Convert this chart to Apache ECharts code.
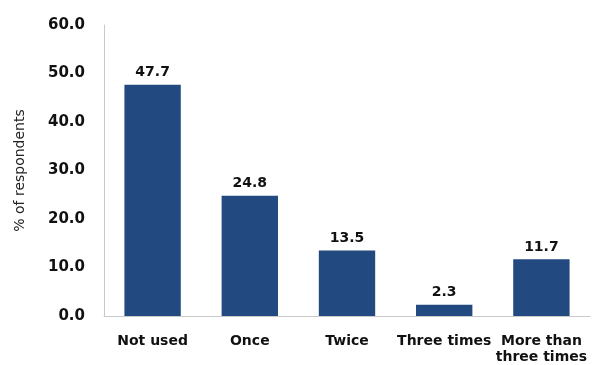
<!DOCTYPE html>
<html><head><meta charset="utf-8">
<script src="https://cdn.jsdelivr.net/npm/echarts@6/dist/echarts.min.js"></script>
<style>html,body{margin:0;padding:0;background:#fff}#c{width:595px;height:365px}</style>
</head><body><div id="c"></div>
<script>
const categories = ["Not used", "Once", "Twice", "Three times", "More than\nthree times"];
const values = [47.7, 24.8, 13.5, 2.3, 11.7];
const yTicks = {min: 0, max: 60, interval: 10};
const yTitle = "% of respondents";

const chart = echarts.init(document.getElementById('c'), null, {renderer: 'canvas'});
chart.setOption({
  animation: false,
  grid: {left: 104, right: 5, top: 25, bottom: 48},
  xAxis: {
    type: 'category', data: categories,
    axisLine: {lineStyle: {color: '#c8c8c8', width: 1}},
    axisTick: {show: false},
    axisLabel: {color: '#111', fontFamily: 'DejaVu Sans', fontWeight: 'bold', fontSize: 14, margin: 17, lineHeight: 16, interval: 0}
  },
  yAxis: {
    type: 'value', min: yTicks.min, max: yTicks.max, interval: yTicks.interval,
    name: yTitle, nameLocation: 'middle', nameGap: 77, nameRotate: 90,
    nameTextStyle: {color: '#222', fontFamily: 'DejaVu Sans', fontSize: 14},
    axisLine: {show: true, lineStyle: {color: '#c8c8c8', width: 1}},
    axisTick: {show: false},
    splitLine: {show: false},
    axisLabel: {color: '#111', fontFamily: 'DejaVu Sans', fontWeight: 'bold', fontSize: 15, margin: 19, formatter: v => v.toFixed(1)}
  },
  series: [{
    type: 'bar', data: values, barWidth: '58%',
    itemStyle: {color: '#234A80'},
    label: {show: true, position: 'top', distance: 5, color: '#111', fontFamily: 'DejaVu Sans', fontWeight: 'bold', fontSize: 14, formatter: p => p.value.toFixed(1)}
  }]
});
</script></body></html>
